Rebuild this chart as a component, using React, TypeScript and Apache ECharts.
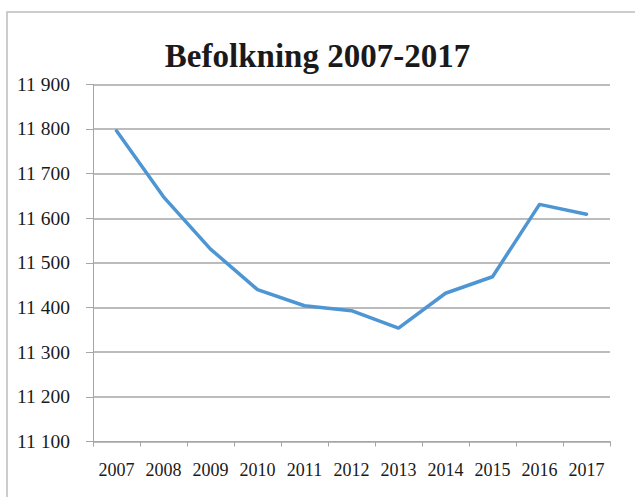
import React, { useEffect, useRef } from "react";
import * as echarts from "echarts";

const years = ["2007", "2008", "2009", "2010", "2011", "2012", "2013", "2014", "2015", "2016", "2017"];
const population = [11796, 11648, 11531, 11440, 11404, 11393, 11354, 11432, 11469, 11631, 11609];
const title = "Befolkning 2007-2017";

export default function App() {
  const ref = useRef<HTMLDivElement>(null);
  useEffect(() => {
    if (!ref.current) return;
    const chart = echarts.init(ref.current, undefined, { renderer: "svg" });
    const serif = "'Liberation Serif', 'DejaVu Serif', serif";
    chart.setOption({
      animation: false,
      backgroundColor: "#ffffff",
      title: {
        text: title,
        left: "center",
        top: 34,
        textStyle: { fontFamily: serif, fontWeight: "bold", fontSize: 33, color: "#1a1a1a" },
      },
      graphic: [
        {
          type: "rect",
          shape: { x: 7, y: 12, width: 700, height: 600 },
          style: { fill: "none", stroke: "#bdbdbd", lineWidth: 1.5 },
          silent: true,
        },
      ],
      grid: { left: 93, right: 25, top: 84.3, bottom: 55.5, containLabel: false },
      xAxis: {
        type: "category",
        data: years,
        boundaryGap: true,
        axisLine: { lineStyle: { color: "#a6a6a6", width: 1 } },
        axisTick: { show: true, length: 5, alignWithLabel: false, lineStyle: { color: "#a6a6a6" } },
        axisLabel: { fontFamily: serif, fontSize: 18, color: "#1a1a1a", margin: 19 },
      },
      yAxis: {
        type: "value",
        min: 11100,
        max: 11900,
        interval: 100,
        axisLine: { show: true, lineStyle: { color: "#a6a6a6", width: 1 } },
        axisTick: { show: true, length: 7, lineStyle: { color: "#a6a6a6" } },
        splitLine: { show: true, lineStyle: { color: "#a6a6a6", width: 1.5 } },
        axisLabel: {
          fontFamily: serif,
          fontSize: 19.5,
          color: "#1a1a1a",
          margin: 23,
          formatter: (v: number) => {
            const s = String(Math.round(v));
            return s.slice(0, s.length - 3) + " " + s.slice(-3);
          },
        },
      },
      series: [
        {
          type: "line",
          data: population,
          symbol: "none",
          lineStyle: { color: "#4e96d3", width: 3.5, cap: "round", join: "round" },
        },
      ],
    });
    return () => chart.dispose();
  }, []);
  return <div ref={ref} style={{ position: "absolute", left: 0, top: 0, width: 635, height: 497 }} />;
}
